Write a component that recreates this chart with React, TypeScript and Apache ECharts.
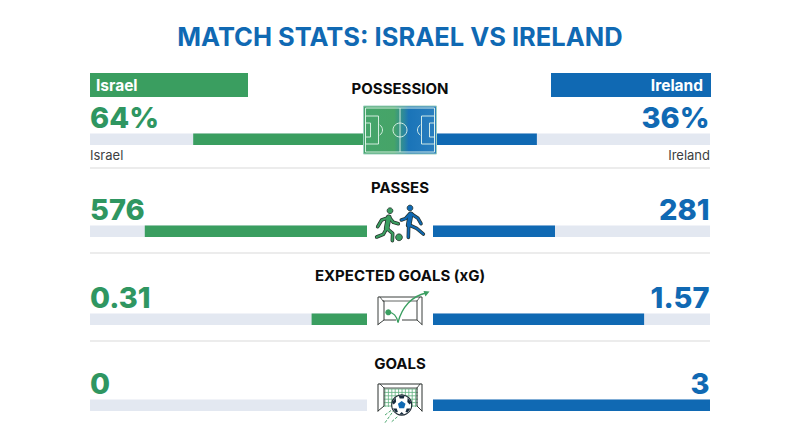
import React, { useEffect, useRef } from "react";
import * as echarts from "echarts";

const TITLE = "MATCH STATS: ISRAEL VS IRELAND";
const TEAMS = ["Israel", "Ireland"];
const STATS = ["POSSESSION", "PASSES", "EXPECTED GOALS (xG)", "GOALS"];
const ISRAEL_VALUES = [64, 576, 0.31, 0];
const IRELAND_VALUES = [36, 281, 1.57, 3];
const ISRAEL_LABELS = ["64%", "576", "0.31", "0"];
const IRELAND_LABELS = ["36%", "281", "1.57", "3"];
const ISRAEL_SCALE = [102, 718, 1.55, 3];
const IRELAND_SCALE = [96, 638, 2.06, 3];

const GREEN = "#3a9e60";
const GREEN_TEXT = "#2f9661";
const BLUE = "#1069b3";
const TRACK = "#e3e8f1";
const DARK = "#26332d";
const FONT = "Inter";

const BAR_TOPS = [133.5, 225.5, 313.5, 399.5];
const VALUE_Y = [117, 209, 297, 383];
const STAT_Y = [88, 187, 275, 363];
const DIVIDERS = [168, 253, 341];

const Z = 20;
const txt = (text: string, x: number, y: number, font: string, fill: string, textAlign = "left") => ({
  type: "text", z: Z, silent: true,
  style: { text, x, y, font, fill, textAlign, textVerticalAlign: "middle" },
});
const ln = (x1: number, y1: number, x2: number, y2: number, stroke: string, lineWidth = 1, extra: any = {}) => ({
  type: "line", z: Z, silent: true, shape: { x1, y1, x2, y2 }, style: { stroke, lineWidth, ...extra },
});
const rc = (x: number, y: number, width: number, height: number, style: any, z = Z) => ({
  type: "rect", z, silent: true, shape: { x, y, width, height }, style,
});
const circ = (cx: number, cy: number, r: number, style: any, z = Z) => ({
  type: "circle", z, silent: true, shape: { cx, cy, r }, style,
});
const poly = (points: number[][], style: any, z = Z) => ({
  type: "polyline", z, silent: true, shape: { points }, style: { fill: "none", lineJoin: "round", lineCap: "round", ...style },
});
const pgon = (points: number[][], style: any, z = Z) => ({
  type: "polygon", z, silent: true, shape: { points }, style,
});

function pitchIcon() {
  const x0 = 363.5, y0 = 106, w = 73, h = 48, L = "rgba(225,245,235,0.9)";
  const s = { stroke: L, lineWidth: 1, fill: "none" };
  return [
    rc(x0, y0, w, h, {
      fill: new echarts.graphic.LinearGradient(0, 0, 1, 0, [
        { offset: 0, color: "#45a56b" }, { offset: 0.42, color: "#46a468" },
        { offset: 0.56, color: "#2a86a0" }, { offset: 0.62, color: "#1a74b8" }, { offset: 1, color: "#2a7fbf" },
      ]),
      stroke: "#9fd0c0", lineWidth: 1,
    }),
    rc(x0 + 2, y0 + 2, w - 4, h - 4, s),
    ln(400, y0 + 2, 400, y0 + h - 2, L),
    circ(400, 130, 7, s),
    rc(x0 + 2, y0 + 10, 13, 28, s),
    rc(x0 + 2, y0 + 17, 5, 14, s),
    rc(x0 + w - 15, y0 + 10, 13, 28, s),
    rc(x0 + w - 7, y0 + 17, 5, 14, s),
    { type: "arc", z: Z, silent: true, shape: { cx: x0 + 13, cy: 130, r: 6, startAngle: -1.0, endAngle: 1.0 }, style: s },
    { type: "arc", z: Z, silent: true, shape: { cx: x0 + w - 13, cy: 130, r: 6, startAngle: Math.PI - 1.0, endAngle: Math.PI + 1.0 }, style: s },
  ];
}

function limb(points: number[][], color: string) {
  return [
    poly(points, { stroke: DARK, lineWidth: 3.6 }),
    poly(points, { stroke: color, lineWidth: 2.1 }, Z + 1),
  ];
}
function passesIcon() {
  const g = GREEN, b = BLUE;
  const p = (pts: number[][]) => pts.map(([x, y]) => [340 + x / 3, 175 + y / 3]);
  return [
    ...limb(p([[145, 128], [125, 135], [113, 155]]), g),
    ...limb(p([[148, 127], [160, 142], [175, 146]]), g),
    ...limb(p([[140, 160], [130, 178], [110, 186]]), g),
    ...limb(p([[140, 160], [158, 175], [157, 197]]), g),
    poly(p([[146, 127], [140, 160]]), { stroke: DARK, lineWidth: 5.6 }),
    poly(p([[146, 127], [140, 160]]), { stroke: g, lineWidth: 4.1 }, Z + 2),
    circ(390, 210.7, 2.9, { fill: g, stroke: DARK, lineWidth: 0.8 }),
    circ(399, 237.3, 3.4, { fill: g, stroke: DARK, lineWidth: 0.8 }),
    ...limb(p([[208, 118], [196, 131], [184, 135]]), b),
    ...limb(p([[216, 118], [234, 130], [243, 146]]), b),
    ...limb(p([[206, 150], [205, 187]]), b),
    ...limb(p([[208, 150], [230, 160], [250, 177]]), b),
    poly(p([[212, 118], [206, 150]]), { stroke: DARK, lineWidth: 5.6 }),
    poly(p([[212, 118], [206, 150]]), { stroke: b, lineWidth: 4.1 }, Z + 2),
    circ(410, 208, 2.9, { fill: b, stroke: DARK, lineWidth: 0.8 }),
  ];
}

function xgIcon() {
  const s = { stroke: "#3a3f3d", lineWidth: 1, fill: "none" };
  return [
    poly([[378, 324.5], [378, 297], [422, 297], [422, 324.5]], s),
    poly([[380, 297], [383, 301], [417, 301], [420, 297]], { ...s, lineWidth: 0.8 }),
    poly([[378, 324.5], [384, 320], [384, 301], [383, 301]], s),
    poly([[422, 324.5], [417, 320], [417, 301]], s),
    ln(384, 320, 396, 320, "#3a3f3d", 1),
    ln(402, 320, 417, 320, "#3a3f3d", 1),
    circ(388.3, 312.3, 3, { fill: GREEN }),
    {
      type: "bezierCurve", z: Z, silent: true,
      shape: { x1: 388.3, y1: 312.3, x2: 398, y2: 322.5, cpx1: 393, cpy1: 312, cpx2: 397, cpy2: 316 },
      style: { stroke: GREEN, lineWidth: 1.3, fill: "none" },
    },
    {
      type: "bezierCurve", z: Z, silent: true,
      shape: { x1: 398, y1: 322.5, x2: 426, y2: 293, cpx1: 402, cpy1: 307, cpx2: 412, cpy2: 296 },
      style: { stroke: GREEN, lineWidth: 1.3, fill: "none" },
    },
    pgon([[429.5, 291.5], [423.5, 291], [425.5, 296.5]], { fill: GREEN }),
  ];
}

function goalsIcon() {
  const s = { stroke: "#2b302e", lineWidth: 1, fill: "none" };
  const net: any[] = [];
  for (let x = 385; x <= 417; x += 3.4) net.push(ln(x, 389, x, 407, "#5fb07f", 0.8));
  for (let y = 389; y <= 407; y += 3.4) net.push(ln(384, y, 418, y, "#5fb07f", 0.8));
  const bx = 401.7, by = 405;
  const D = "#172b3d";
  return [
    ...net,
    poly([[378, 411], [378, 384], [422, 384], [422, 411]], s),
    poly([[380, 384], [384, 388], [417, 388], [420, 384]], { ...s, lineWidth: 0.8 }),
    poly([[378, 411], [384, 406], [384, 388]], s),
    poly([[422, 411], [417, 406], [417, 388]], s),
    circ(bx, by, 10, { fill: "#ffffff", stroke: "#1f2a33", lineWidth: 1.1 }),
    pgon([[bx, by - 4], [bx + 3.8, by - 1.2], [bx + 2.4, by + 3.2], [bx - 2.4, by + 3.2], [bx - 3.8, by - 1.2]], { fill: BLUE }),
    pgon([[bx - 3, by - 9.6], [bx + 3, by - 9.6], [bx + 2, by - 6.6], [bx - 2, by - 6.6]], { fill: D }),
    pgon([[bx + 6, by - 7.4], [bx + 9.6, by - 2.5], [bx + 8, by - 0.5], [bx + 5.6, by - 3]], { fill: D }),
    pgon([[bx - 6, by - 7.4], [bx - 9.6, by - 2.5], [bx - 8, by - 0.5], [bx - 5.6, by - 3]], { fill: D }),
    pgon([[bx - 8.8, by + 3.5], [bx - 5, by + 3.5], [bx - 3.8, by + 7], [bx - 5.8, by + 7.6]], { fill: D }),
    pgon([[bx + 8.8, by + 3.5], [bx + 5, by + 3.5], [bx + 3.8, by + 7], [bx + 5.8, by + 7.6]], { fill: D }),
    pgon([[bx - 2.5, by + 9.6], [bx + 2.5, by + 9.6], [bx, by + 7]], { fill: D }),
    ln(385, 422.7, 393.3, 411, GREEN, 0.9, { lineDash: [3, 1.5] }),
    ln(391.7, 421.7, 398.3, 416, GREEN, 0.9, { lineDash: [3, 1.5] }),
    ln(385, 415, 391.7, 410, GREEN, 0.9, { lineDash: [3, 1.5] }),
  ];
}

export default function App() {
  const ref = useRef<HTMLDivElement>(null);
  useEffect(() => {
    if (!ref.current) return;
    const chart = echarts.init(ref.current, undefined, { renderer: "svg", width: 800, height: 447 });
    const grids: any[] = [], xAxes: any[] = [], yAxes: any[] = [], series: any[] = [];
    STATS.forEach((stat, i) => {
      [0, 1].forEach((side) => {
        const idx = grids.length;
        grids.push({ left: side === 0 ? 90 : 433, width: 277, top: BAR_TOPS[i], height: 11.5 });
        xAxes.push({
          gridIndex: idx, type: "value", min: 0, show: false, inverse: side === 0,
          max: side === 0 ? ISRAEL_SCALE[i] : IRELAND_SCALE[i],
        });
        yAxes.push({ gridIndex: idx, type: "category", data: [stat], show: false });
        series.push({
          type: "bar", name: TEAMS[side] + " " + stat, xAxisIndex: idx, yAxisIndex: idx,
          data: [side === 0 ? ISRAEL_VALUES[i] : IRELAND_VALUES[i]],
          barWidth: "100%", showBackground: true, backgroundStyle: { color: TRACK },
          itemStyle: { color: side === 0 ? GREEN : BLUE }, silent: true,
        });
      });
    });
    const elements: any[] = [
      txt(TITLE, 400, 36, `700 25.5px ${FONT}`, BLUE, "center"),
      rc(90, 73, 158, 24, { fill: GREEN }),
      rc(551, 73, 160, 24, { fill: BLUE }),
      txt(TEAMS[0], 96, 85, `700 15.5px ${FONT}`, "#ffffff"),
      txt(TEAMS[1], 703, 85, `700 15.5px ${FONT}`, "#ffffff", "right"),
      txt(TEAMS[0], 90, 154.5, `400 13px ${FONT}`, "#3c3f42"),
      txt(TEAMS[1], 710, 154.5, `400 13px ${FONT}`, "#3c3f42", "right"),
      ...DIVIDERS.map((y) => ln(90, y, 710, y, "#d9d9d9", 1)),
      ...STATS.map((s, i) => txt(s, 400, STAT_Y[i], `700 15px ${FONT}`, "#0c0c0c", "center")),
      ...ISRAEL_LABELS.map((s, i) => txt(s, 90, VALUE_Y[i], `800 29px ${FONT}`, GREEN_TEXT)),
      ...IRELAND_LABELS.map((s, i) => txt(s, 709.5, VALUE_Y[i], `800 29px ${FONT}`, BLUE, "right")),
      ...pitchIcon(),
      ...passesIcon(),
      ...xgIcon(),
      ...goalsIcon(),
    ];
    chart.setOption({
      animation: false,
      backgroundColor: "#ffffff",
      grid: grids,
      xAxis: xAxes,
      yAxis: yAxes,
      series,
      graphic: { elements },
    });
    return () => chart.dispose();
  }, []);
  return <div ref={ref} style={{ position: "absolute", left: 0, top: 0, width: 800, height: 447 }} />;
}
